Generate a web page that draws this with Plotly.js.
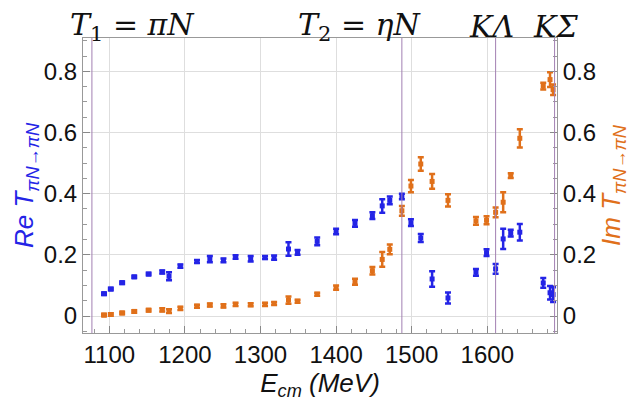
<!DOCTYPE html>
<html>
<head>
<meta charset="utf-8">
<script src="https://cdn.plot.ly/plotly-3.0.1.min.js"></script>
<style>html,body{margin:0;padding:0;background:#fff;}#chart{width:640px;height:403px;}</style>
</head>
<body>
<div id="chart"></div>
<script>
// Energies (MeV)
const energy = [1093, 1102, 1117, 1133, 1152, 1170, 1179, 1194, 1216, 1233, 1251, 1267, 1287, 1306, 1318, 1337, 1349, 1375, 1400, 1425, 1448, 1461, 1471, 1487, 1499, 1512, 1527, 1548, 1585, 1599, 1611, 1621, 1631, 1643, 1674, 1683, 1687];
// Real part and its error
const reT = [0.073, 0.088, 0.109, 0.128, 0.137, 0.144, 0.130, 0.163, 0.178, 0.186, 0.182, 0.193, 0.187, 0.191, 0.191, 0.219, 0.208, 0.244, 0.276, 0.303, 0.328, 0.360, 0.378, 0.391, 0.305, 0.255, 0.121, 0.059, 0.143, 0.207, 0.154, 0.252, 0.271, 0.274, 0.108, 0.076, 0.070];
const reErr = [0.004, 0.004, 0.004, 0.004, 0.004, 0.005, 0.013, 0.005, 0.005, 0.010, 0.006, 0.006, 0.009, 0.005, 0.007, 0.022, 0.008, 0.013, 0.009, 0.011, 0.011, 0.022, 0.013, 0.009, 0.011, 0.013, 0.025, 0.018, 0.011, 0.011, 0.016, 0.033, 0.011, 0.027, 0.016, 0.022, 0.024];
// Imaginary part and its error
const imT = [0.003, 0.005, 0.010, 0.015, 0.019, 0.020, 0.016, 0.025, 0.032, 0.036, 0.033, 0.038, 0.037, 0.038, 0.041, 0.052, 0.048, 0.071, 0.093, 0.112, 0.148, 0.185, 0.218, 0.344, 0.425, 0.497, 0.440, 0.378, 0.311, 0.313, 0.339, 0.372, 0.459, 0.581, 0.752, 0.773, 0.740];
const imErr = [0.004, 0.004, 0.004, 0.004, 0.004, 0.005, 0.006, 0.005, 0.005, 0.005, 0.005, 0.005, 0.005, 0.005, 0.005, 0.012, 0.005, 0.005, 0.007, 0.010, 0.012, 0.024, 0.016, 0.016, 0.020, 0.022, 0.024, 0.020, 0.013, 0.013, 0.016, 0.033, 0.008, 0.030, 0.011, 0.024, 0.017];
// Thresholds
const thresholdE = [1077, 1487, 1611, 1689];
const thresholdLabels = ['<i>T</i><sub>1</sub> = <i>πN</i>', '<i>T</i><sub>2</sub> = <i>ηN</i>', '<i>K</i><i>Λ</i>', '<i>K</i><i>Σ</i>'];
const labelE = [1131, 1432, 1605, 1690];

const blue = '#2424e6';
const orange = '#e0701a';
const purple = '#a27fb2';

const traces = [
  {x: energy, y: reT, type: 'scatter', mode: 'markers', yaxis: 'y', cliponaxis: false,
   marker: {symbol: 'square', size: 5, color: blue},
   error_y: {type: 'data', array: reErr, visible: true, color: blue, thickness: 2.5, width: 3}},
  {x: energy, y: imT, type: 'scatter', mode: 'markers', yaxis: 'y2', cliponaxis: false,
   marker: {symbol: 'square', size: 5, color: orange},
   error_y: {type: 'data', array: imErr, visible: true, color: orange, thickness: 2.5, width: 3}}
];

const yr = [-0.0556, 0.909];
const tickFont = {family: 'Liberation Sans, Arial, sans-serif', size: 24, color: '#111'};

const layout = {
  width: 640, height: 403,
  margin: {l: 83, r: 83, t: 38, b: 70},
  paper_bgcolor: '#fff', plot_bgcolor: '#fff',
  showlegend: false,
  xaxis: {
    range: [1065.2, 1692.2], tick0: 1100, dtick: 100, ticks: 'inside', ticklen: 7, tickcolor: '#888',
    showline: true, linecolor: '#999', linewidth: 1, mirror: true,
    showgrid: true, gridcolor: '#dedede', gridwidth: 1, zeroline: false,
    tickfont: tickFont,
    minor: {dtick: 20, tick0: 1100, ticks: 'inside', ticklen: 4, tickcolor: '#999', showgrid: false},
    title: {text: '<i>E</i><sub><i>cm</i></sub> <i>(MeV)</i>', font: {family: 'Liberation Sans, Arial, sans-serif', size: 26, color: '#111'}, standoff: 2}
  },
  yaxis: {
    range: yr, tick0: 0, dtick: 0.2, ticks: 'inside', ticklen: 7, tickcolor: '#888',
    showline: true, linecolor: '#999', linewidth: 1,
    showgrid: true, gridcolor: '#dedede', gridwidth: 1, zeroline: false,
    tickfont: tickFont, tickformat: '~g',
    minor: {dtick: 0.05, tick0: 0, ticks: 'inside', ticklen: 4, tickcolor: '#999', showgrid: false},
    title: {text: '<i>Re T</i><sub><i>πN→πN</i></sub>', font: {family: 'Liberation Sans, Arial, sans-serif', size: 26, color: blue}, standoff: 2}
  },
  yaxis2: {
    range: yr, tick0: 0, dtick: 0.2, ticks: 'inside', ticklen: 7, tickcolor: '#888',
    overlaying: 'y', side: 'right', anchor: 'x',
    showline: true, linecolor: '#999', linewidth: 1,
    showgrid: false, zeroline: false,
    tickfont: tickFont, tickformat: '~g',
    minor: {dtick: 0.05, tick0: 0, ticks: 'inside', ticklen: 4, tickcolor: '#999', showgrid: false},
    title: {text: '<i>Im T</i><sub><i>πN→πN</i></sub>', font: {family: 'Liberation Sans, Arial, sans-serif', size: 26, color: orange}, standoff: 2}
  },
  shapes: thresholdE.map(e => ({type: 'line', xref: 'x', yref: 'paper', x0: e, x1: e, y0: 0, y1: 1, line: {color: purple, width: 1}})),
  annotations: thresholdLabels.map((t, i) => ({
    text: t, xref: 'x', yref: 'paper', x: labelE[i], y: 1.04, yanchor: 'middle', xanchor: 'center',
    showarrow: false, font: {family: 'DejaVu Serif, Liberation Serif, serif', size: 30, color: '#111'}
  }))
};

Plotly.newPlot('chart', traces, layout, {displayModeBar: false, staticPlot: true});
</script>
</body>
</html>
